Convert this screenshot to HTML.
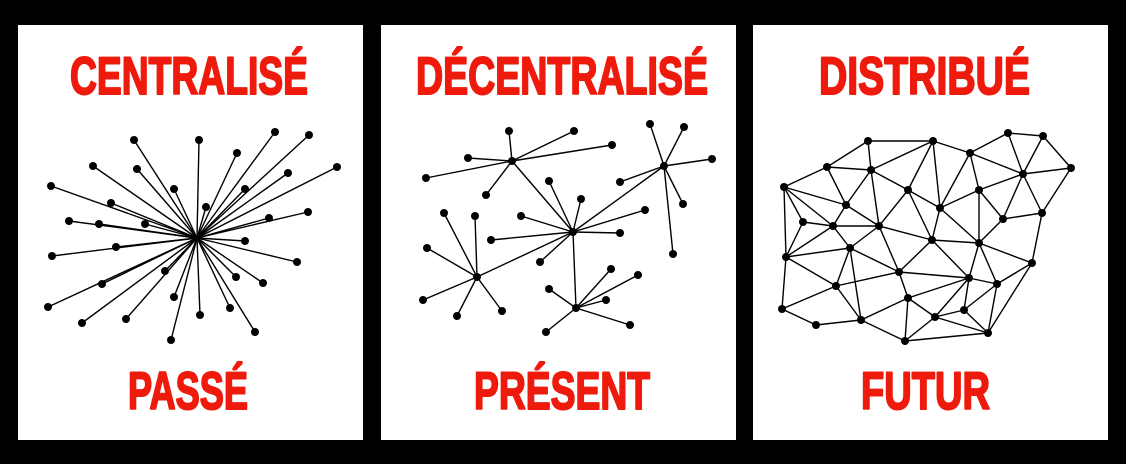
<!DOCTYPE html>
<html><head><meta charset="utf-8"><style>html,body{margin:0;padding:0;background:#000;}svg{display:block}</style></head>
<body>
<svg width="1126" height="464" viewBox="0 0 1126 464" xmlns="http://www.w3.org/2000/svg">
<rect width="1126" height="464" fill="#000"/>
<rect x="18" y="25" width="345" height="415" fill="#fff"/>
<rect x="381" y="25" width="355" height="415" fill="#fff"/>
<rect x="753" y="25" width="355" height="415" fill="#fff"/>
<g font-family="Liberation Sans Narrow, Liberation Sans, sans-serif" font-weight="bold" font-size="53" fill="#ee1a0c" stroke="#ee1a0c" stroke-width="2" stroke-linejoin="round">
<text x="70" y="94" textLength="238" lengthAdjust="spacingAndGlyphs">CENTRALISÉ</text>
<text x="128" y="409" textLength="120" lengthAdjust="spacingAndGlyphs">PASSÉ</text>
<text x="416" y="94" textLength="292" lengthAdjust="spacingAndGlyphs">DÉCENTRALISÉ</text>
<text x="474" y="409" textLength="176" lengthAdjust="spacingAndGlyphs">PRÉSENT</text>
<text x="819" y="94" textLength="211" lengthAdjust="spacingAndGlyphs">DISTRIBUÉ</text>
<text x="861" y="409" textLength="129" lengthAdjust="spacingAndGlyphs">FUTUR</text>
</g>
<g id="g" stroke="#000" stroke-width="1.4" fill="#000"></g>
</svg>
<script>
var g=document.getElementById('g'),NS='http://www.w3.org/2000/svg';
function L(a,b){var l=document.createElementNS(NS,'line');l.setAttribute('x1',a[0]);l.setAttribute('y1',a[1]);l.setAttribute('x2',b[0]);l.setAttribute('y2',b[1]);g.appendChild(l);}
function C(p,r){var c=document.createElementNS(NS,'circle');c.setAttribute('cx',p[0]);c.setAttribute('cy',p[1]);c.setAttribute('r',r||4);c.setAttribute('stroke','none');g.appendChild(c);}
var c1=[197,238];
var p1=[[134,140],[199,140],[275,132],[309,135],[237,153],[93,166],[137,169],[288,173],[337,167],[51,186],[174,189],[245,189],[111,203],[206,207],[269,218],[308,212],[69,221],[99,224],[145,224],[245,241],[52,256],[116,247],[297,262],[165,271],[236,277],[263,283],[102,284],[48,307],[174,297],[230,308],[200,315],[82,323],[126,319],[255,332],[171,340]];
p1.forEach(function(p){L(c1,p);});p1.forEach(function(p){C(p);});
var A=[512,161],B=[573,232],Cc=[664,166],D=[477,277],E=[576,308];
var hubs=[[A,[[509,131],[574,131],[612,145],[468,158],[426,178],[486,195]]],
[B,[[549,181],[581,199],[521,216],[645,210],[491,240],[620,233],[540,262]]],
[Cc,[[650,124],[684,127],[712,159],[620,182],[683,204],[673,254]]],
[D,[[444,213],[475,216],[427,248],[423,300],[457,316],[502,311]]],
[E,[[549,289],[611,269],[638,275],[606,300],[630,325],[546,332]]]];
L(A,B);L(B,Cc);L(B,D);L(B,E);
hubs.forEach(function(h){h[1].forEach(function(p){L(h[0],p);});});
hubs.forEach(function(h){C(h[0]);h[1].forEach(function(p){C(p);});});
var N=[null,[868,141],[933,141],[1008,133],[1043,136],[827,167],[871,170],[970,153],[1071,168],[1023,174],[784,187],[908,190],[979,190],[846,205],[940,208],[1042,213],[1003,219],[803,222],[833,226],[879,226],[932,240],[979,243],[850,248],[786,257],[1032,263],[899,272],[969,278],[997,284],[836,286],[908,298],[964,310],[782,309],[935,317],[861,320],[816,325],[988,333],[905,341]];
var E3=[[1,2],[1,5],[1,6],[2,6],[2,11],[2,14],[2,7],[3,4],[3,7],[3,9],[4,9],[4,8],[5,6],[5,10],[5,13],[6,13],[6,11],[6,19],[7,9],[7,12],[7,14],[8,9],[8,15],[9,12],[9,16],[9,15],[10,13],[10,17],[10,18],[10,23],[13,19],[11,19],[11,14],[11,20],[12,14],[12,21],[12,16],[13,18],[14,20],[14,21],[15,16],[15,24],[16,21],[17,18],[17,23],[18,19],[18,22],[18,23],[19,20],[19,22],[19,25],[20,21],[20,25],[20,26],[21,26],[21,24],[21,27],[22,23],[22,25],[22,28],[22,33],[23,28],[23,31],[24,27],[24,35],[25,26],[25,28],[25,29],[26,29],[26,30],[26,27],[26,32],[27,30],[27,35],[28,31],[28,33],[29,33],[29,32],[29,36],[30,32],[30,35],[32,35],[32,36],[33,36],[35,36],[31,34],[34,33]];
E3.forEach(function(e){L(N[e[0]],N[e[1]]);});
for(var i=1;i<N.length;i++)C(N[i]);
</script>
</body></html>
